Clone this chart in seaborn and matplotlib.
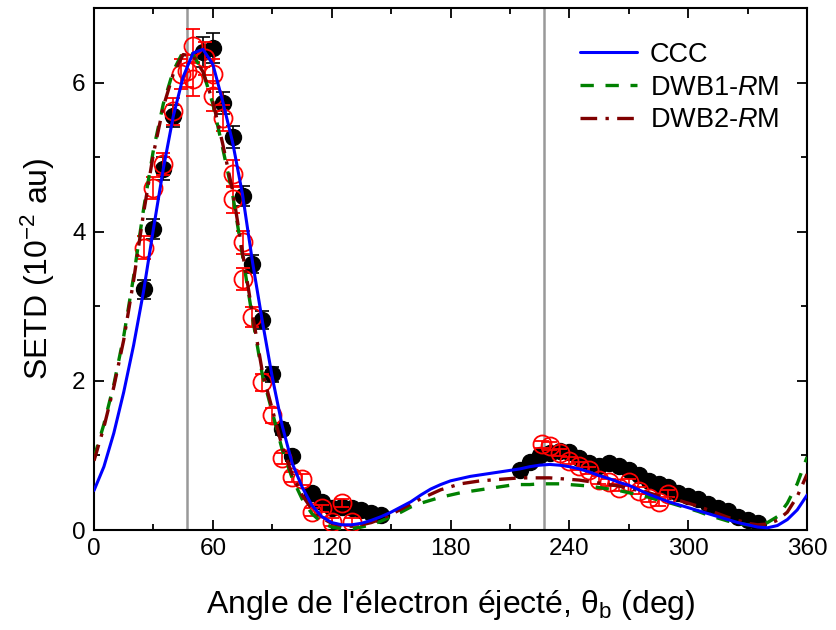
import numpy as np
import pandas as pd
import seaborn as sns
import matplotlib
matplotlib.use("Agg")
import matplotlib.pyplot as plt
from matplotlib.ticker import MultipleLocator

angle = list(range(0, 365, 5))
ccc = [0.53, 0.85, 1.30, 1.85, 2.48, 3.20, 4.04, 4.85, 5.55, 6.08, 6.40, 6.45, 6.25, 5.75, 5.20, 4.50,
       3.60, 2.80, 2.05, 1.40, 0.90, 0.58, 0.33, 0.18, 0.10, 0.07, 0.07, 0.09, 0.13, 0.18, 0.24, 0.31,
       0.38, 0.47, 0.55, 0.61, 0.66, 0.69, 0.72, 0.74, 0.76, 0.78, 0.80, 0.82, 0.85, 0.87, 0.88, 0.87,
       0.85, 0.82, 0.78, 0.73, 0.69, 0.64, 0.60, 0.54, 0.48, 0.43, 0.38, 0.34, 0.30, 0.26, 0.22, 0.18,
       0.14, 0.10, 0.07, 0.04, 0.03, 0.06, 0.14, 0.27, 0.47]
dwb1 = [0.97, 1.42, 1.95, 2.60, 3.40, 4.30, 5.10, 5.72, 6.16, 6.42, 6.38, 6.15, 5.72, 5.12, 4.50, 3.68,
        2.85, 2.08, 1.58, 1.08, 0.70, 0.42, 0.22, 0.10, 0.04, 0.02, 0.02, 0.04, 0.07, 0.12, 0.18, 0.24,
        0.31, 0.36, 0.40, 0.44, 0.47, 0.50, 0.52, 0.54, 0.56, 0.58, 0.60, 0.61, 0.61, 0.62, 0.62, 0.62,
        0.61, 0.60, 0.59, 0.57, 0.55, 0.53, 0.50, 0.47, 0.44, 0.40, 0.37, 0.33, 0.29, 0.25, 0.20, 0.16,
        0.12, 0.09, 0.07, 0.07, 0.10, 0.18, 0.36, 0.62, 0.98]
dwb2 = [0.93, 1.38, 1.92, 2.55, 3.35, 4.25, 5.05, 5.68, 6.12, 6.38, 6.36, 6.15, 5.75, 5.18, 4.55, 3.72,
        2.90, 2.12, 1.62, 1.12, 0.75, 0.47, 0.28, 0.16, 0.09, 0.06, 0.05, 0.07, 0.10, 0.15, 0.21, 0.28,
        0.35, 0.42, 0.48, 0.54, 0.58, 0.62, 0.64, 0.66, 0.67, 0.68, 0.69, 0.70, 0.70, 0.70, 0.70, 0.69,
        0.68, 0.67, 0.65, 0.63, 0.61, 0.59, 0.56, 0.53, 0.50, 0.46, 0.43, 0.40, 0.36, 0.32, 0.27, 0.22,
        0.17, 0.13, 0.09, 0.07, 0.08, 0.13, 0.24, 0.45, 0.75]

# experiment 1 (filled black)
exp1_x = [25, 30, 35, 40, 55, 60, 65, 70, 75, 80, 85, 90, 95, 100, 110, 115, 120, 125, 130, 135, 140, 145,
          215, 220, 225, 230, 235, 240, 245, 250, 255, 260, 265, 270, 275, 280, 285, 290, 295, 300,
          305, 310, 315, 320, 325, 330, 335]
exp1_y = [3.23, 4.04, 4.85, 5.56, 6.42, 6.47, 5.73, 5.27, 4.48, 3.57, 2.82, 2.09, 1.35, 0.99, 0.50, 0.38,
          0.29, 0.31, 0.29, 0.27, 0.23, 0.20,
          0.80, 0.91, 1.00, 1.04, 1.06, 1.05, 0.97, 0.90, 0.86, 0.90, 0.86, 0.80, 0.74, 0.66, 0.62, 0.58,
          0.50, 0.45, 0.42, 0.35, 0.30, 0.25, 0.18, 0.13, 0.10]
exp1_err = [0.13, 0.13, 0.15, 0.15, 0.20, 0.20, 0.15, 0.15, 0.13, 0.12, 0.12, 0.10, 0.08, 0.06, 0.05, 0.05,
            0.05, 0.05, 0.05, 0.05, 0.05, 0.05,
            0.04, 0.04, 0.04, 0.04, 0.04, 0.04, 0.04, 0.04, 0.04, 0.04, 0.04, 0.04, 0.04, 0.04, 0.04, 0.04,
            0.04, 0.04, 0.04, 0.04, 0.04, 0.04, 0.04, 0.04, 0.04]

# experiment 2 (open red)
exp2_x = [25, 30, 35, 40, 44, 47, 50, 50, 56, 60, 60, 65, 70, 70, 75, 75, 80, 85, 90, 95, 100, 105,
          110, 115, 120, 125, 130,
          226, 230, 235, 240, 245, 250, 255, 260, 265, 270, 275, 280, 285, 290]
exp2_y = [3.79, 4.59, 4.91, 5.62, 6.12, 6.16, 6.50, 6.05, 6.33, 6.12, 5.82, 5.53, 4.78, 4.44, 3.86, 3.37,
          2.86, 1.98, 1.54, 0.96, 0.71, 0.68, 0.24, 0.29, 0.11, 0.36, 0.11,
          1.15, 1.13, 1.04, 0.93, 0.86, 0.80, 0.67, 0.64, 0.57, 0.64, 0.53, 0.43, 0.37, 0.49]
exp2_err = [0.15, 0.15, 0.15, 0.18, 0.20, 0.22, 0.22, 0.22, 0.22, 0.20, 0.20, 0.18, 0.18, 0.18, 0.15, 0.15,
            0.13, 0.12, 0.10, 0.08, 0.07, 0.07, 0.05, 0.05, 0.05, 0.05, 0.05,
            0.05, 0.05, 0.05, 0.05, 0.05, 0.05, 0.05, 0.05, 0.05, 0.05, 0.05, 0.05, 0.05, 0.05]

vlines = [47, 227]

sns.set_style("ticks")
plt.rcParams['font.family'] = ['Liberation Sans', 'DejaVu Sans']
plt.rcParams['mathtext.fontset'] = 'custom'
plt.rcParams['mathtext.rm'] = 'Liberation Sans'
plt.rcParams['mathtext.it'] = 'Liberation Sans:italic'
plt.rcParams['text.color'] = 'black'
plt.rcParams['axes.labelcolor'] = 'black'
plt.rcParams['xtick.color'] = 'black'
plt.rcParams['ytick.color'] = 'black'
plt.rcParams['axes.edgecolor'] = 'black'

fig = plt.figure(figsize=(8.37, 6.3), dpi=100)
ax = fig.add_axes([0.1123, 0.1587, 0.852, 0.828])

for v in vlines:
    ax.axvline(v, color="#999999", lw=1.8, zorder=1)

ax.errorbar(exp1_x, exp1_y, yerr=exp1_err, fmt="o", color="black", ms=11.5, capsize=5,
            elinewidth=1.2, capthick=1.2, zorder=2)
ax.errorbar(exp2_x, exp2_y, yerr=exp2_err, fmt="o", mfc="none", mec="red", ecolor="red", ms=13,
            mew=1.3, capsize=5, elinewidth=1.2, capthick=1.2, zorder=3)

df = pd.DataFrame({"angle": angle, "CCC": ccc, "DWB1": dwb1, "DWB2": dwb2})
sns.lineplot(data=df, x="angle", y="CCC", color="blue", lw=2.2, ax=ax, zorder=5,
             label="CCC")
sns.lineplot(data=df, x="angle", y="DWB1", color="green", lw=2.4, ax=ax, zorder=4,
             label="DWB1-$\\it{R}$M")
ax.lines[-1].set_dashes((4, 3.5))
sns.lineplot(data=df, x="angle", y="DWB2", color="#7f0000", lw=2.4, ax=ax, zorder=4.5,
             label="DWB2-$\\it{R}$M")
ax.lines[-1].set_dashes((5, 2.5, 1, 2.5))

ax.set_xlim(0, 360)
ax.set_ylim(0, 7)
ax.xaxis.set_major_locator(MultipleLocator(60))
ax.xaxis.set_minor_locator(MultipleLocator(30))
ax.yaxis.set_major_locator(MultipleLocator(2))
ax.yaxis.set_minor_locator(MultipleLocator(1))
ax.tick_params(which="both", direction="in", top=True, right=True, width=1.3)
ax.tick_params(which="major", length=7, labelsize=17.5, pad=6)
ax.tick_params(which="minor", length=4)
for s in ax.spines.values():
    s.set_linewidth(1.5)

ax.set_xlabel("Angle de l'électron éjecté, θ$_{\\rm b}$ (deg)", fontsize=23, labelpad=20)
ax.set_ylabel("SETD (10$^{-2}$ au)", fontsize=23, labelpad=11)

ax.legend(loc="upper right", bbox_to_anchor=(0.987, 0.972), frameon=False, fontsize=19.5,
          handlelength=2.1, handletextpad=0.45, labelspacing=0.25, borderpad=0.2)

fig.savefig("out.png", dpi=100)
